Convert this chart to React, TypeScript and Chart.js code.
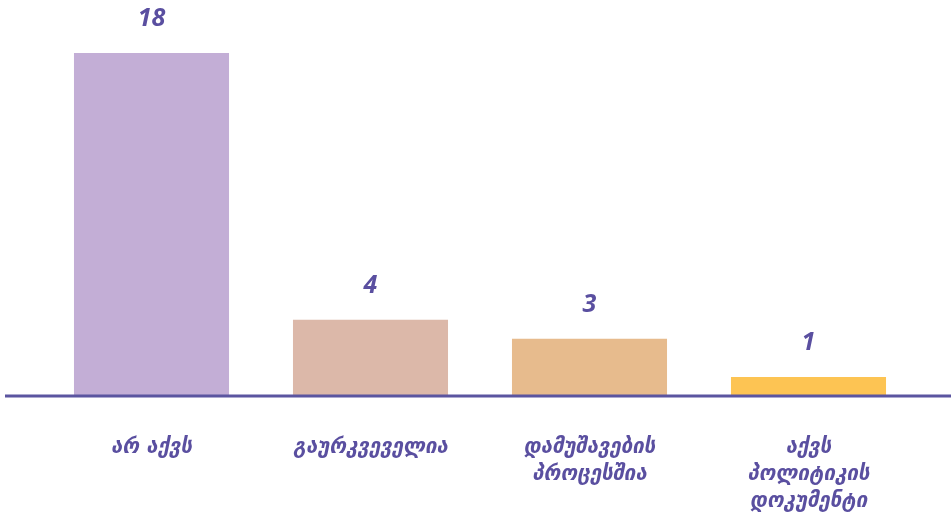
import React, { useEffect, useRef } from "react";
import { Chart, registerables } from "chart.js";

Chart.register(...registerables);

const categories: string[][] = [
  ["არ აქვს"],
  ["გაურკვეველია"],
  ["დამუშავების", "პროცესშია"],
  ["აქვს", "პოლიტიკის", "დოკუმენტი"],
];
const values: number[] = [18, 4, 3, 1];
const barColors: string[] = ["#c3aed6", "#dcb8a9", "#e7bb8d", "#fdc453"];
const textColor = "#5a4fa0";

const valueLabels = {
  id: "valueLabels",
  afterDatasetsDraw(chart: any) {
    const ctx = chart.ctx;
    const meta = chart.getDatasetMeta(0);
    ctx.save();
    ctx.fillStyle = textColor;
    ctx.font = "italic bold 25px 'Open Sans', 'DejaVu Sans', sans-serif";
    ctx.textAlign = "center";
    ctx.textBaseline = "middle";
    meta.data.forEach((el: any, i: number) => {
      ctx.fillText(String(values[i]), el.x, el.y - 34);
    });
    ctx.restore();
  },
};

const axisLine = {
  id: "axisLine",
  afterDatasetsDraw(chart: any) {
    const ctx = chart.ctx;
    const y = chart.chartArea.bottom;
    ctx.save();
    ctx.strokeStyle = "#5b55a0";
    ctx.lineWidth = 3;
    ctx.beginPath();
    ctx.moveTo(5, y);
    ctx.lineTo(chart.width, y);
    ctx.stroke();
    ctx.restore();
  },
};

export default function App() {
  const ref = useRef<HTMLCanvasElement | null>(null);
  useEffect(() => {
    if (!ref.current) return;
    const chart = new Chart(ref.current, {
      type: "bar",
      data: {
        labels: categories,
        datasets: [
          {
            data: values,
            backgroundColor: barColors,
            borderWidth: 0,
            categoryPercentage: 1,
            barPercentage: 0.708,
          },
        ],
      },
      options: {
        animation: false,
        responsive: false,
        maintainAspectRatio: false,
        layout: { padding: { left: 42, right: 33, top: 53, bottom: 0 } },
        plugins: { legend: { display: false }, tooltip: { enabled: false } },
        scales: {
          y: { display: false, min: 0, max: 18 },
          x: {
            grid: { display: false, drawTicks: false },
            border: { display: false },
            afterFit: (scale: any) => {
              scale.height = 119;
            },
            ticks: {
              color: textColor,
              padding: 38,
              maxRotation: 0,
              autoSkip: false,
              font: {
                family: "'DejaVu Sans', sans-serif",
                size: 20.5,
                style: "italic",
                weight: "bold",
                lineHeight: 1.32,
              },
            },
          },
        },
      },
      plugins: [valueLabels, axisLine],
    });
    return () => chart.destroy();
  }, []);
  return (
    <div style={{ position: "absolute", left: 0, top: 0, width: 951, height: 515 }}>
      <canvas ref={ref} width={951} height={515} style={{ width: 951, height: 515 }} />
    </div>
  );
}
